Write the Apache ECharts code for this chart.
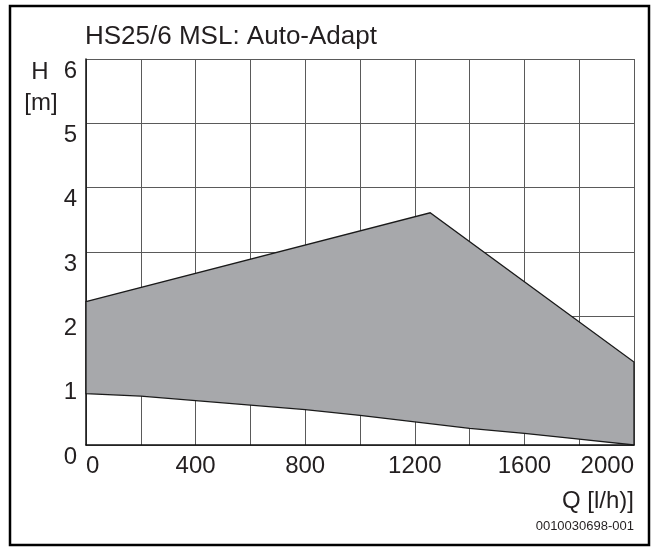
<!DOCTYPE html>
<html>
<head>
<meta charset="utf-8">
<script src="https://cdn.jsdelivr.net/npm/echarts@6/dist/echarts.min.js"></script>
<style>
  html, body { margin: 0; padding: 0; background: #fff; }
  #chart { width: 659px; height: 547px; }
</style>
</head>
<body>
<div id="chart"></div>
<script>
// Kennlinie HS25/6 MSL Auto-Adapt (Q in l/h, H in m)
const upperQ = [0, 1256, 2000];
const upperH = [2.23, 3.61, 1.29];

const lowerQ = [0, 200, 400, 600, 800, 1000, 1200, 1400, 1600, 1800, 2000];
const lowerH = [0.80, 0.76, 0.69, 0.62, 0.55, 0.46, 0.36, 0.26, 0.18, 0.09, 0];

const xLabels = [0, 400, 800, 1200, 1600, 2000];
const yTicks = [0, 1, 2, 3, 4, 5, 6];

const TXT = "#231f20";
const FONT = "Liberation Sans, Arial, sans-serif";

// Polygon: obere Kante vorwaerts, untere Kante rueckwaerts
function polyPoints(api){
  const pts = [];
  for (let i = 0; i < upperQ.length; i++) pts.push(api.coord([upperQ[i], upperH[i]]));
  for (let i = lowerQ.length - 1; i >= 0; i--) pts.push(api.coord([lowerQ[i], lowerH[i]]));
  return pts;
}

const chart = echarts.init(document.getElementById("chart"), null, { renderer: "canvas" });

const option = {
  animation: false,
  backgroundColor: "#fff",
  title: {
    text: "HS25/6 MSL: Auto-Adapt",
    left: 85,
    top: 24,
    padding: 0,
    textStyle: { fontFamily: FONT, fontSize: 26, fontWeight: "normal", color: TXT }
  },
  grid: { left: 86, right: 25, top: 59, bottom: 102, containLabel: false },
  xAxis: {
    type: "value",
    min: 0,
    max: 2000,
    interval: 200,
    axisLine: { show: true, lineStyle: { color: "#111", width: 1.5 } },
    axisTick: { show: false },
    splitLine: { show: true, lineStyle: { color: "#5a5a5a", width: 1 } },
    axisLabel: {
      margin: 9,
      fontFamily: FONT,
      fontSize: 24,
      color: TXT,
      alignMinLabel: "left",
      alignMaxLabel: "right",
      formatter: (v) => xLabels.includes(v) ? String(v) : ""
    }
  },
  yAxis: {
    type: "value",
    min: 0,
    max: 6,
    interval: 1,
    axisLine: { show: true, lineStyle: { color: "#111", width: 1.5 } },
    axisTick: { show: false },
    splitLine: { show: true, lineStyle: { color: "#5a5a5a", width: 1 } },
    axisLabel: {
      margin: 9,
      fontFamily: FONT,
      fontSize: 24,
      color: TXT,
      verticalAlign: "top",
      formatter: (v) => yTicks.includes(v) ? String(v) : ""
    }
  },
  series: [
    {
      type: "custom",
      coordinateSystem: "cartesian2d",
      data: [[0, 0]],
      z: 5,
      renderItem: (params, api) => ({
        type: "polygon",
        shape: { points: polyPoints(api) },
        style: { fill: "#a7a8ab", stroke: "#1a1a1a", lineWidth: 1.3 }
      })
    }
  ],
  graphic: [
    {
      type: "rect",
      shape: { x: 10, y: 6, width: 639, height: 539 },
      style: { fill: null, stroke: "#000", lineWidth: 2.5 },
      silent: true
    },
    {
      type: "text",
      style: { x: 40, y: 60, text: "H", textAlign: "center", textVerticalAlign: "top",
               fontFamily: FONT, fontSize: 24, fill: TXT }
    },
    {
      type: "text",
      style: { x: 41, y: 91, text: "[m]", textAlign: "center", textVerticalAlign: "top",
               fontFamily: FONT, fontSize: 24, fill: TXT }
    },
    {
      type: "text",
      style: { x: 634, y: 489, text: "Q [l/h)]", textAlign: "right", textVerticalAlign: "top",
               fontFamily: FONT, fontSize: 24, fill: TXT }
    },
    {
      type: "text",
      style: { x: 634, y: 520, text: "0010030698-001", textAlign: "right", textVerticalAlign: "top",
               fontFamily: FONT, fontSize: 13, fill: TXT }
    }
  ]
};

chart.setOption(option);
window.addEventListener("resize", () => chart.resize());
</script>
</body>
</html>
